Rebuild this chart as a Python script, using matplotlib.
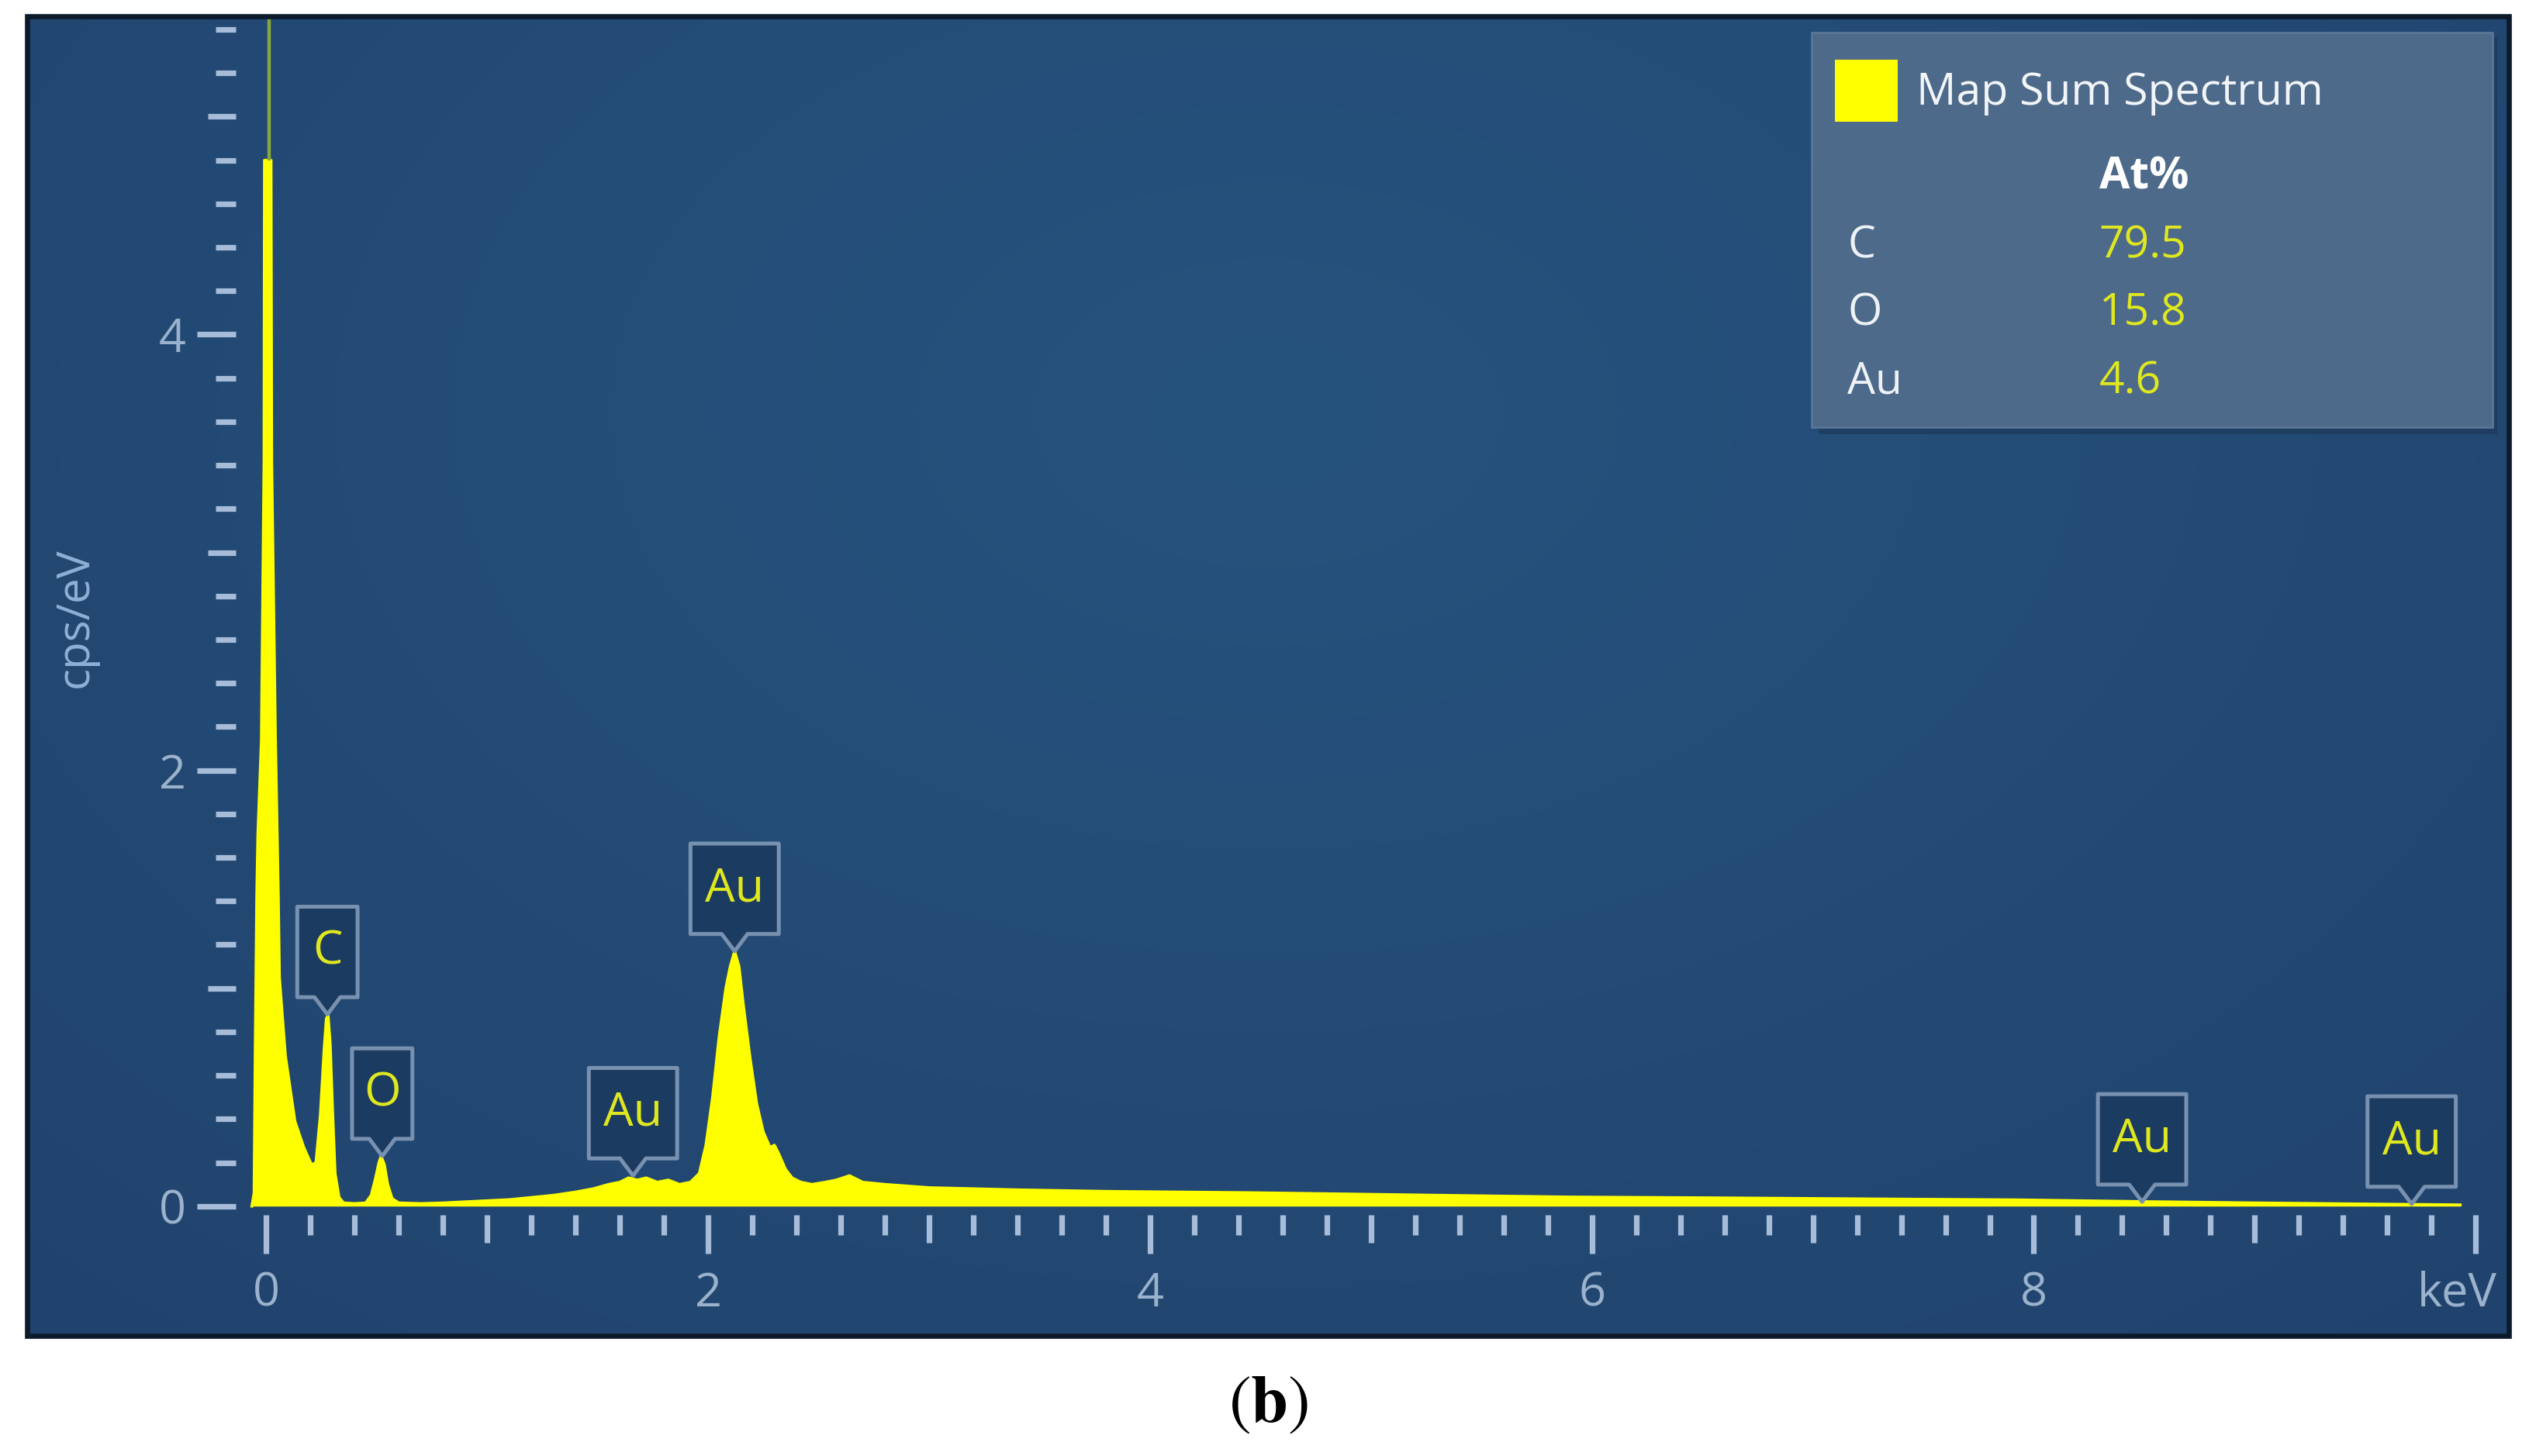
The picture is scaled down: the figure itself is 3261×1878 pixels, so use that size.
import matplotlib
matplotlib.use('Agg')
import matplotlib.pyplot as plt
import matplotlib.patches as mpatches
import matplotlib.transforms as mtransforms
import numpy as np

# EDS spectrum (keV, cps/eV)
energy = [-0.065, -0.055, -0.05, -0.043, -0.038, -0.022, -0.01, -0.008, 0.022, 0.025,
          0.042, 0.05, 0.055, 0.06, 0.087, 0.13, 0.17, 0.205, 0.225, 0.245,
          0.262, 0.272, 0.28, 0.29, 0.30, 0.312, 0.33, 0.35, 0.40, 0.45,
          0.475, 0.495, 0.51, 0.52, 0.535, 0.55, 0.57, 0.60, 0.70, 0.80,
          0.90, 1.00, 1.10, 1.20, 1.30, 1.40, 1.48, 1.55, 1.60, 1.64,
          1.68, 1.72, 1.77, 1.82, 1.87, 1.92, 1.96, 1.99, 2.02, 2.05,
          2.08, 2.10, 2.12, 2.14, 2.16, 2.19, 2.22, 2.25, 2.28, 2.30,
          2.32, 2.35, 2.38, 2.42, 2.47, 2.53, 2.58, 2.64, 2.70, 2.80,
          3.00, 3.40, 3.80, 4.45, 5.17, 5.90, 6.60, 7.30, 7.92, 8.50,
          9.00, 9.50, 9.93]
counts = [0.0, 0.06, 0.70, 1.42, 1.70, 2.14, 3.42, 4.80, 4.80, 3.42,
          2.14, 1.70, 1.42, 1.05, 0.69, 0.39, 0.27, 0.19, 0.20, 0.42,
          0.72, 0.86, 0.88, 0.74, 0.45, 0.15, 0.04, 0.015, 0.012, 0.015,
          0.05, 0.13, 0.20, 0.23, 0.19, 0.10, 0.035, 0.015, 0.012, 0.015,
          0.02, 0.025, 0.03, 0.04, 0.05, 0.065, 0.08, 0.10, 0.11, 0.13,
          0.12, 0.13, 0.11, 0.12, 0.10, 0.11, 0.15, 0.28, 0.50, 0.78,
          1.00, 1.10, 1.17, 1.10, 0.92, 0.68, 0.47, 0.34, 0.27, 0.28,
          0.24, 0.17, 0.13, 0.11, 0.10, 0.11, 0.12, 0.14, 0.11, 0.10,
          0.085, 0.075, 0.068, 0.062, 0.052, 0.042, 0.038, 0.033, 0.029, 0.021,
          0.015, 0.01, 0.006]

# thin over-range line of the zero peak
spike_x = [0.014]
spike_lo = [4.80]

# identified lines
peak_names = ['C', 'O', 'Au', 'Au', 'Au', 'Au']
peak_energy = [0.277, 0.525, 1.66, 2.12, 8.49, 9.71]
peak_top = [0.88, 0.23, 0.14, 1.17, 0.02, 0.01]

# quantification table
elements = ['C', 'O', 'Au']
at_percent = ['79.5', '15.8', '4.6']

x_labels = ['0', '', '2', '', '4', '', '6', '', '8', '', '']
y_labels = ['0', '', '2', '', '4', '']

W, H, DPI = 3262, 1878, 200
fig = plt.figure(figsize=(W / DPI, H / DPI), dpi=DPI)
fig.patch.set_facecolor('white')

# positions measured on the reference (1568 px wide preview)
def fx(p):
    return p / 1568.0
def fy(p):
    return 1 - p / 902.7

x0, sx = 165.0, 136.95
y0, sy = 747.8, 135.1
xlim = ((17 - x0) / sx, (1555 - x0) / sx)
ylim = ((y0 - 828) / sy, (y0 - 10) / sy)

ax = fig.add_axes([fx(17), fy(828), fx(1555) - fx(17), fy(10) - fy(828)])
ax.set_facecolor('none')

# background gradient
u = np.linspace(0, 1, 400)
v = np.linspace(0, 1, 220)
U, V = np.meshgrid(u, v)
d = np.clip(np.sqrt(((U - 0.5) / 0.8) ** 2 + ((V - 0.3) / 1.0) ** 2), 0, 1)
light = np.array([0x26, 0x53, 0x7e]) / 255.0
dark = np.array([0x20, 0x42, 0x6c]) / 255.0
img = light[None, None, :] * (1 - d[..., None]) + dark[None, None, :] * d[..., None]
ax.imshow(img, extent=(xlim[0], xlim[1], ylim[0], ylim[1]), aspect='auto',
          origin='upper', zorder=0, interpolation='bilinear')

yellow = '#ffff00'
ax.fill_between(energy, counts, 0, color=yellow, lw=0, zorder=3)
ax.plot(energy, counts, color=yellow, lw=1.3, zorder=3)
ax.vlines(spike_x, spike_lo, ylim[1], color='#86a83a', lw=1.6, zorder=3)

# ticks
tick_c = '#a6bcd8'
lab_c = '#9bb2cc'
font = 'Open Sans'
for s in ax.spines.values():
    s.set_visible(False)
ax.spines['left'].set_position(('data', (146 - x0) / sx))
ax.spines['bottom'].set_position(('data', (y0 - 753) / sy))
ax.set_xticks(range(0, 11))
ax.set_xticklabels(x_labels)
ax.set_xticks([i * 0.2 for i in range(51) if i % 5], minor=True)
ax.set_yticks(range(0, 6))
ax.set_yticklabels(y_labels)
ax.set_yticks([i * 0.2 for i in range(28) if i % 5], minor=True)
ax.tick_params(which='major', length=18, width=2.6, color=tick_c,
               labelcolor=lab_c, labelsize=22)
ax.tick_params(which='minor', length=9.5, width=2.6, color=tick_c)
ax.tick_params(axis='x', which='major', pad=8)
ax.tick_params(axis='y', which='major', pad=5)
for lab in ax.get_xticklabels() + ax.get_yticklabels():
    lab.set_fontfamily(font)
for i, t in enumerate(ax.xaxis.get_major_ticks()):
    if i % 2:
        t.tick1line.set_markersize(13)
for i, t in enumerate(ax.yaxis.get_major_ticks()):
    if i % 2:
        t.tick1line.set_markersize(13)

ax.set_xlim(xlim)
ax.set_ylim(ylim)

ax.text((1523 - x0) / sx, (y0 - 802) / sy, 'keV', color=lab_c, fontsize=22,
        family=font, ha='center', va='center')
fig.text(fx(47), fy(383), 'cps/eV', rotation=90, color='#8fb0d6', fontsize=21,
         family=font, ha='center', va='center')

# peak tags
def peak_tag(xe, ye, name):
    w = 41 if len(name) > 1 else 28
    g, h, hv = 8, 42, 6
    tr = mtransforms.Affine2D().scale(fig.dpi / 72.0) + \
        mtransforms.ScaledTranslation(xe, ye, ax.transData)
    verts = [(-w / 2, g), (-hv, g), (0, 0), (hv, g), (w / 2, g),
             (w / 2, g + h), (-w / 2, g + h)]
    ax.add_patch(mpatches.Polygon(verts, closed=True, transform=tr,
                                  fc='#1c3b61', ec='#7891b0', lw=1.8,
                                  joinstyle='round', zorder=5))
    ax.text(0, g + h / 2, name, transform=tr, ha='center', va='center',
            color='#dfe81e', fontsize=22, family=font, zorder=6)

for n, e, t in zip(peak_names, peak_energy, peak_top):
    peak_tag(e, t, n)

# legend / quantification box
fig.patches.append(mpatches.Rectangle((fx(1127), fy(269)), fx(1548) - fx(1127), fy(23) - fy(269),
                                      transform=fig.transFigure, fc='#1c3654', ec='none', alpha=0.6, zorder=4))
fig.patches.append(mpatches.Rectangle((fx(1123), fy(265)), fx(1545) - fx(1123), fy(20) - fy(265),
                                      transform=fig.transFigure, fc='#4d6a8a', ec='#5a7696', lw=1, zorder=5))
fig.patches.append(mpatches.Rectangle((fx(1137.5), fy(75.5)), fx(1176) - fx(1137.5), fy(37) - fy(75.5),
                                      transform=fig.transFigure, fc=yellow, ec='none', zorder=6))
fig.text(fx(1188), fy(65), 'Map Sum Spectrum', color='#f2f5f8', fontsize=20.6,
         family=font, ha='left', va='baseline', zorder=7)
fig.text(fx(1301), fy(117), 'At%', color='white', fontsize=20.5, fontweight='bold',
         family=font, ha='left', va='baseline', zorder=7)
row_base = [160, 201.5, 244]
for el, val, yb in zip(elements, at_percent, row_base):
    fig.text(fx(1145), fy(yb), el, color='#eef2f6', fontsize=20.5, family=font,
             ha='left', va='baseline', zorder=7)
    fig.text(fx(1301), fy(yb), val, color='#dfe81e', fontsize=20.5, family=font,
             ha='left', va='baseline', zorder=7)

# panel frame
fig.patches.append(mpatches.Rectangle((fx(17), fy(828)), fx(1555) - fx(17), fy(10) - fy(828),
                                      transform=fig.transFigure, fc='none', ec='#0c1a2a', lw=2.4, zorder=8))

plt.rcParams['mathtext.fontset'] = 'stix'
fig.text(fx(786), fy(870), r'$(\mathbf{b})$', fontsize=31, color='black',
         ha='center', va='center')

fig.savefig('out.png', dpi=DPI, facecolor='white')
